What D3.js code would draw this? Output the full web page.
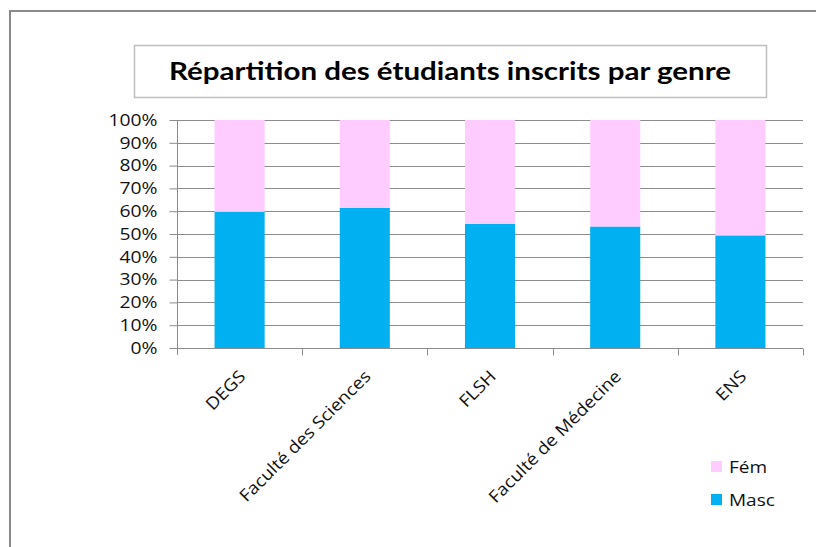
<!DOCTYPE html>
<html>
<head>
<meta charset="utf-8">
<script src="https://cdn.jsdelivr.net/npm/d3@7"></script>
<style>
  body { margin: 0; background: #fff; }
  svg { display: block; font-family: "Open Sans", sans-serif; }
</style>
</head>
<body>
<svg id="chart" width="816" height="547"></svg>
<script>
// data
var categories = ['DEGS', 'Faculté des Sciences', 'FLSH', 'Faculté de Médecine', 'ENS'];
var masc = [59.7, 61.4, 54.5, 53.3, 49.4];
var fem = [40.3, 38.6, 45.5, 46.7, 50.6];
var seriesNames = ['Masc', 'Fém'];
var seriesColors = ['#00b0f0', '#ffccff'];
var yTicks = [0, 10, 20, 30, 40, 50, 60, 70, 80, 90, 100];
var title = 'Répartition des étudiants inscrits par genre';

var svg = d3.select('#chart');

//Widen text a bit, the original font runs wider than the installed ones
function stretch(sel, factor) {
  sel.each(function () {
    var w = this.getComputedTextLength();
    d3.select(this).attr('textLength', w * factor).attr('lengthAdjust', 'spacingAndGlyphs');
  });
}

//Outer frame (runs off the right and bottom edges)
svg.append('rect').attr('x', 10).attr('y', 11).attr('width', 830).attr('height', 560)
  .attr('fill', 'none').attr('stroke', '#8a8a8a').attr('stroke-width', 2);

//Title box
svg.append('rect').attr('x', 134.5).attr('y', 45.5).attr('width', 632).attr('height', 52)
  .attr('fill', '#fff').attr('stroke', '#bfbfbf').attr('stroke-width', 1.5);
svg.append('text').attr('x', 450).attr('y', 80).attr('text-anchor', 'middle')
  .style('font-family', 'Lato, sans-serif').style('font-weight', 'bold').style('font-size', '24px')
  .attr('fill', '#000').text(title)
  .attr('textLength', 562).attr('lengthAdjust', 'spacingAndGlyphs');

var margin = { top: 120, left: 177, right: 803, bottom: 348 };

var xScale = d3.scaleBand().domain(categories).range([margin.left, margin.right]).paddingInner(0.6).paddingOuter(0.3);
var bandScale = d3.scaleBand().domain(categories).range([margin.left, margin.right]);
var yScale = d3.scaleLinear().domain([0, 100]).range([margin.bottom, margin.top]);

//Gridlines
svg.append('g').selectAll('line').data(yTicks.slice(1)).enter().append('line')
  .attr('x1', margin.left).attr('x2', margin.right)
  .attr('y1', function (d) { return Math.round(yScale(d)) + 0.5; })
  .attr('y2', function (d) { return Math.round(yScale(d)) + 0.5; })
  .attr('stroke', '#8c8c8c').attr('stroke-width', 1);

//Stacked bars
var rows = categories.map(function (c, i) { return { cat: c, Masc: masc[i], 'Fém': fem[i] }; });
var stacked = d3.stack().keys(seriesNames)(rows);

svg.append('g').selectAll('g').data(stacked).enter().append('g')
  .attr('fill', function (d, i) { return seriesColors[i]; })
  .selectAll('rect').data(function (d) { return d; }).enter().append('rect')
  .attr('x', function (d) { return xScale(d.data.cat); })
  .attr('width', xScale.bandwidth())
  .attr('y', function (d) { return yScale(d[1]); })
  .attr('height', function (d) { return yScale(d[0]) - yScale(d[1]); });

//Y axis
var yAxis = svg.append('g').attr('transform', 'translate(' + (margin.left + 0.5) + ',0)')
  .call(d3.axisLeft(yScale).tickValues(yTicks).tickSize(8).tickPadding(12)
    .tickFormat(function (d) { return d + '%'; }));
yAxis.select('.domain').remove();
yAxis.append('line').attr('y1', margin.top).attr('y2', margin.bottom + 7).attr('stroke', '#8c8c8c');
yAxis.selectAll('.tick line').attr('stroke', '#8c8c8c');
yAxis.selectAll('text').attr('fill', '#111').style('font-size', '16.5px')
  .style('font-family', '"Open Sans", sans-serif').call(stretch, 1.17);

//X axis
var xAxis = svg.append('g').attr('transform', 'translate(0,' + (margin.bottom + 0.5) + ')');
xAxis.append('line').attr('x1', margin.left).attr('x2', margin.right).attr('stroke', '#8c8c8c');
xAxis.selectAll('.tk').data(categories).enter().append('line')
  .attr('x1', function (d) { return Math.round(bandScale(d) + bandScale.bandwidth()) + 0.5; })
  .attr('x2', function (d) { return Math.round(bandScale(d) + bandScale.bandwidth()) + 0.5; })
  .attr('y1', 0).attr('y2', 7).attr('stroke', '#8c8c8c');
xAxis.selectAll('.lbl').data(categories).enter().append('text')
  .attr('transform', function (d) {
    return 'translate(' + (bandScale(d) + bandScale.bandwidth() / 2 + 7) + ',29) rotate(-45)';
  })
  .attr('text-anchor', 'end').attr('fill', '#111').style('font-size', '17px')
  .text(function (d) { return d; })
  .call(stretch, 1.1);

//Legend
var legend = svg.append('g').selectAll('g').data(['Fém', 'Masc']).enter().append('g')
  .attr('transform', function (d, i) { return 'translate(711,' + (461 + i * 33) + ')'; });
legend.append('rect').attr('width', 11).attr('height', 11)
  .attr('fill', function (d) { return seriesColors[seriesNames.indexOf(d)]; });
legend.append('text').attr('x', 18).attr('y', 11.5).attr('fill', '#111').style('font-size', '17px')
  .text(function (d) { return d; })
  .call(stretch, 1.12);
</script>
</body>
</html>
